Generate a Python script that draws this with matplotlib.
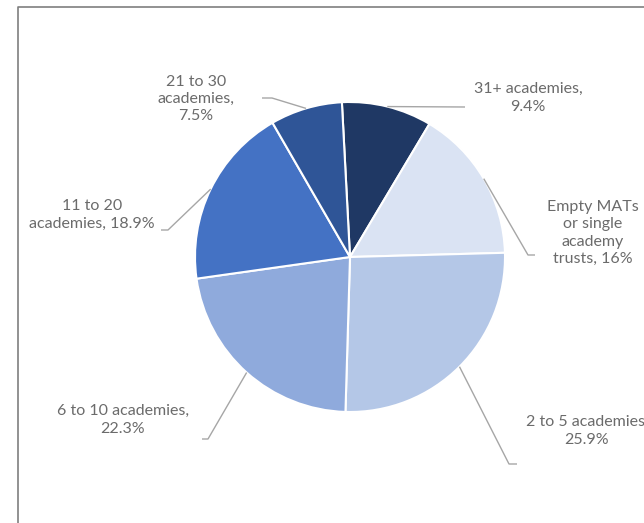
import matplotlib
matplotlib.use("Agg")
import matplotlib.pyplot as plt
import numpy as np

# ---- data ----
categories = ["31+ academies", "Empty MATs or single academy trusts", "2 to 5 academies",
              "6 to 10 academies", "11 to 20 academies", "21 to 30 academies"]
values = [9.4, 16.0, 25.9, 22.3, 18.9, 7.5]
label_texts = ["31+ academies,\n9.4%", "Empty MATs\nor single\nacademy\ntrusts, 16%",
               "2 to 5 academies,\n25.9%", "6 to 10 academies,\n22.3%",
               "11 to 20\nacademies, 18.9%", "21 to 30\nacademies,\n7.5%"]
colors = ["#1F3864", "#DAE3F3", "#B4C7E7", "#8FAADC", "#4472C4", "#2F5597"]

W, H = 644, 523
fig = plt.figure(figsize=(W / 100, H / 100), dpi=100)
ax = fig.add_axes([0, 0, 1, 1])

cx, cy, R = 350, H - 257, 155
START = 93
wedges, _ = ax.pie(values, colors=colors, startangle=START, counterclock=False,
                   center=(cx, cy), radius=R,
                   wedgeprops=dict(edgecolor="white", linewidth=1.5))
ax.set_xlim(0, W)
ax.set_ylim(0, H)
ax.set_aspect("equal")
ax.axis("off")

# label layout (pixel coords, y from top): elbow path points and text centre
layout = [
    dict(path=[(465, 107)], text=(528, 98)),
    dict(path=[(528, 255), (535, 255)], text=(593, 233)),
    dict(path=[(509, 464), (517, 464)], text=(587, 431)),
    dict(path=[(208, 439), (202, 439)], text=(123, 420)),
    dict(path=[(168, 230), (161, 230)], text=(92, 215)),
    dict(path=[(272, 98), (262, 98)], text=(196, 99)),
]

total = sum(values)
cum = 0.0
for v, lab, lay in zip(values, label_texts, layout):
    mid = START - 360.0 * (cum + v / 2) / total
    cum += v
    ex = cx + R * np.cos(np.radians(mid))
    ey = cy + R * np.sin(np.radians(mid))
    xs = [ex] + [p[0] for p in lay["path"]]
    ys = [ey] + [H - p[1] for p in lay["path"]]
    ax.plot(xs, ys, color="#A6A6A6", lw=1.0, solid_capstyle="butt")
    tx, ty = lay["text"]
    ax.text(tx, H - ty, lab, ha="center", va="center", fontsize=11.5,
            family=["Lato", "DejaVu Sans"], color="#6B6B6B", linespacing=1.3)

# chart border (left and top edges visible)
ax.plot([18, 18, W + 5], [-5, H - 7, H - 7], color="#7F7F7F", lw=1.2, clip_on=False)

fig.savefig("out.png", dpi=100)
